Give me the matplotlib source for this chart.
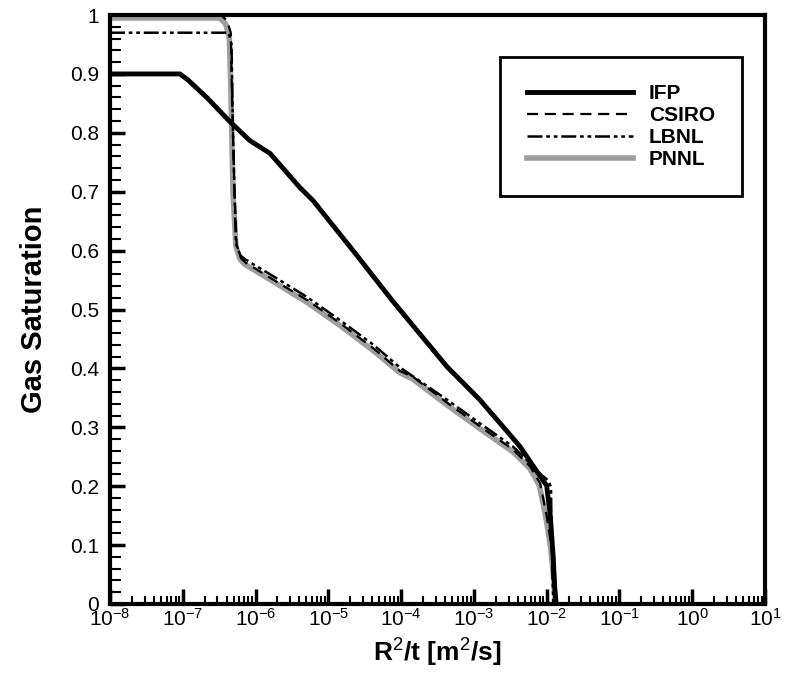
import numpy as np
import matplotlib
matplotlib.use("Agg")
import matplotlib.pyplot as plt
from matplotlib.ticker import LogLocator, MultipleLocator

plt.rcParams['font.family'] = ['Liberation Sans', 'DejaVu Sans']
plt.rcParams['mathtext.fontset'] = 'custom'
plt.rcParams['mathtext.rm'] = 'Liberation Sans'
plt.rcParams['mathtext.bf'] = 'Liberation Sans:bold'

# log10(R^2/t) and gas saturation
ifp_logx = [-8.0, -7.04, -6.93, -6.67, -6.36, -6.08, -5.80, -5.39, -5.21, -4.64,
            -4.12, -3.37, -2.92, -2.37, -2.09, -2.00, -1.95, -1.91, -1.89, -1.87]
ifp_sg = [0.90, 0.90, 0.89, 0.86, 0.82, 0.787, 0.765, 0.707, 0.685, 0.597,
          0.515, 0.403, 0.347, 0.268, 0.217, 0.201, 0.15, 0.08, 0.03, 0.0]

csiro_logx = [-8.0, -6.47, -6.39, -6.34, -6.33, -6.29, -6.26, -6.20, -6.14, -5.71,
              -5.29, -4.84, -4.38, -4.02, -3.84, -3.37, -2.92, -2.46, -2.23, -2.09,
              -2.00, -1.93, -1.89, -1.87]
csiro_sg = [1.0, 1.0, 0.99, 0.97, 0.90, 0.70, 0.61, 0.587, 0.58, 0.547,
            0.516, 0.477, 0.434, 0.396, 0.386, 0.342, 0.302, 0.262, 0.234, 0.205,
            0.15, 0.095, 0.04, 0.0]

lbnl_logx = [-8.0, -6.37, -6.33, -6.31, -6.27, -6.21, -6.14, -5.71, -5.29, -4.84,
             -4.38, -4.02, -3.37, -2.92, -2.46, -2.23, -2.07, -1.97, -1.94, -1.93,
             -1.91]
lbnl_sg = [0.97, 0.97, 0.95, 0.80, 0.612, 0.592, 0.585, 0.553, 0.521, 0.482,
           0.44, 0.402, 0.347, 0.307, 0.267, 0.239, 0.219, 0.209, 0.197, 0.10,
           0.0]

pnnl_logx = [-8.0, -6.49, -6.41, -6.36, -6.34, -6.31, -6.27, -6.21, -6.15, -5.71,
             -5.29, -4.84, -4.38, -4.02, -3.84, -3.37, -2.92, -2.46, -2.23, -2.10,
             -2.01, -1.94, -1.90, -1.88]
pnnl_sg = [0.995, 0.995, 0.985, 0.96, 0.88, 0.70, 0.607, 0.585, 0.577, 0.544,
           0.512, 0.473, 0.43, 0.393, 0.382, 0.338, 0.298, 0.258, 0.23, 0.201,
           0.147, 0.092, 0.037, 0.0]

fig = plt.figure(figsize=(7.85, 6.84), dpi=100)
ax = fig.add_axes([0.1401, 0.117, 0.8344, 0.861])

ax.plot(10 ** np.array(pnnl_logx), pnnl_sg, color='0.62', lw=4, label='PNNL', zorder=2)
ax.plot(10 ** np.array(csiro_logx), csiro_sg, color='black', lw=1.6, ls=(0, (5, 3)), label='CSIRO', zorder=3)
ax.plot(10 ** np.array(lbnl_logx), lbnl_sg, color='black', lw=1.8, ls=(0, (6, 1.5, 1.5, 1.5, 1.5, 1.5)), label='LBNL', zorder=3)
ax.plot(10 ** np.array(ifp_logx), ifp_sg, color='black', lw=3.5, label='IFP', zorder=4)

ax.set_xscale('log')
ax.set_xlim(1e-8, 1e1)
ax.set_ylim(0, 1)
ax.xaxis.set_major_locator(LogLocator(base=10, numticks=20))
ax.xaxis.set_minor_locator(LogLocator(base=10, subs=np.arange(2, 10), numticks=20))
ax.yaxis.set_minor_locator(MultipleLocator(0.02))
ax.set_yticks([0, 0.1, 0.2, 0.3, 0.4, 0.5, 0.6, 0.7, 0.8, 0.9, 1])
ax.set_yticklabels(['0', '0.1', '0.2', '0.3', '0.4', '0.5', '0.6', '0.7', '0.8', '0.9', '1'])

ax.tick_params(which='both', direction='in', top=False, right=False, labelsize=15, width=1.5)
ax.tick_params(which='major', length=11, width=2.5)
ax.tick_params(which='minor', length=6)
ax.tick_params(axis='y', which='minor', length=8)
ax.tick_params(axis='y', pad=8)
ax.tick_params(axis='x', pad=3)
for s in ax.spines.values():
    s.set_linewidth(3)

ax.set_xlabel(r'R$^2$/t [m$^2$/s]', fontsize=19, fontweight='bold', labelpad=4)
ax.set_ylabel('Gas Saturation', fontsize=21, fontweight='bold', labelpad=16)

handles, labels = ax.get_legend_handles_labels()
order = [labels.index(n) for n in ['IFP', 'CSIRO', 'LBNL', 'PNNL']]
leg = ax.legend([handles[i] for i in order], [labels[i] for i in order],
                loc='upper left', bbox_to_anchor=(0.595, 0.929), fancybox=False,
                edgecolor='black', framealpha=1, handlelength=5.1, handletextpad=0.75,
                borderpad=1.3, borderaxespad=0, labelspacing=0.15,
                prop={'weight': 'bold', 'size': 15})
leg.get_frame().set_linewidth(2)

fig.savefig('out.png', dpi=100)
